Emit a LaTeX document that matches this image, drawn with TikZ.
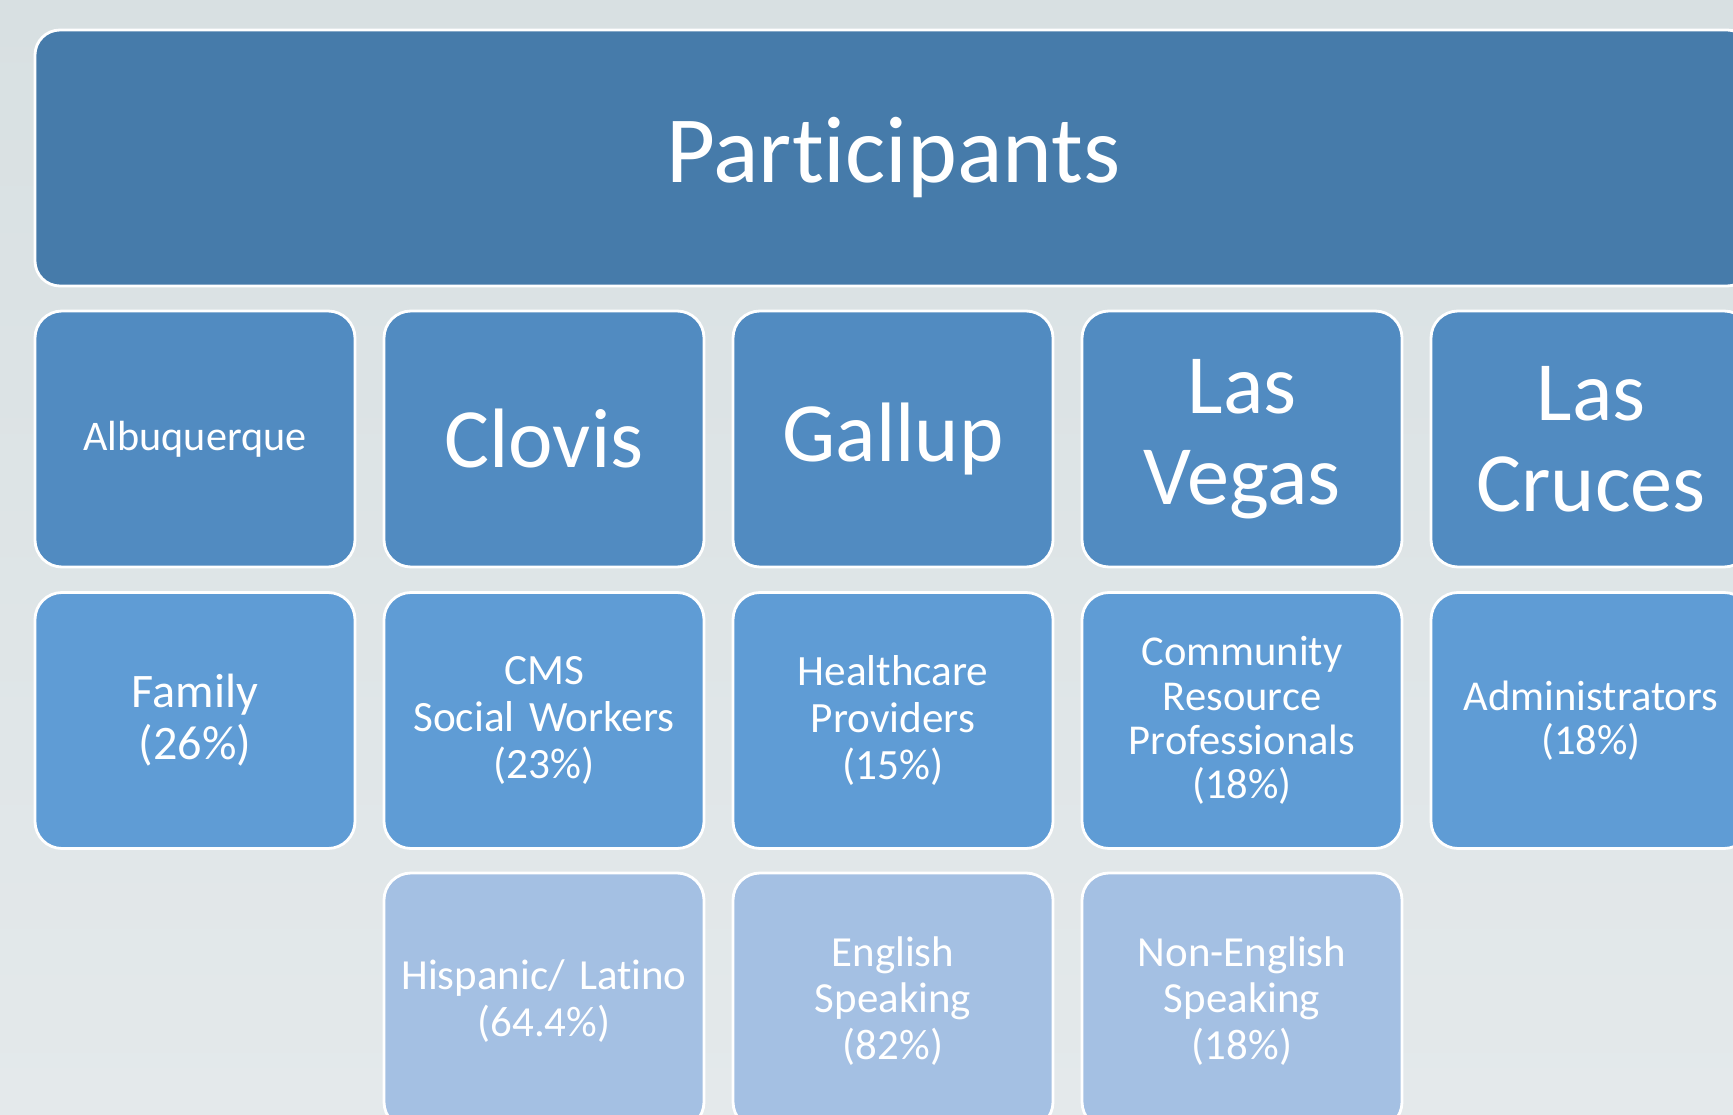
\documentclass[tikz,border=0pt]{standalone}
\usepackage{fontspec}
\setmainfont{Carlito}

\definecolor{bgtop}{RGB}{216,224,226}
\definecolor{bgbottom}{RGB}{228,233,235}
\definecolor{headblue}{RGB}{70,123,170}
\definecolor{cityblue}{RGB}{81,139,193}
\definecolor{roleblue}{RGB}{95,156,213}
\definecolor{paleblue}{RGB}{164,192,227}

\begin{document}
\begin{tikzpicture}[
	line join=round,
	tile/.style={
		draw=white, line width=0.8pt,
		rounded corners=0.27cm,
		minimum width=3.2cm, minimum height=2.56cm,
		text width=3.1cm, align=center,
		text=white, inner sep=0pt
	},
	city/.style={tile, fill=cityblue, font=\fontsize{24}{26}\selectfont},
	role/.style={tile, fill=roleblue, font=\fontsize{12.1}{12.6}\selectfont},
	extra/.style={tile, fill=paleblue, font=\fontsize{12.2}{13.3}\selectfont}
	]
	% Hintergrund und Rahmen
	\useasboundingbox (0,0) rectangle (17.33,11.14);
	\shade[top color=bgtop, bottom color=bgbottom] (0,0) rectangle (17.33,11.14);
	\clip (0,0) rectangle (17.33,11.14);
	
	% Kopfzeile (kein ti-Ligatur)
	\node[tile, fill=headblue, minimum width=17.17cm, text width=17cm,
		rounded corners=0.25cm, font=\fontsize{27}{30}\selectfont]
		(participants) at (8.935,9.56) {Part\kern0pt icipants};
	
	% Standorte
	\node[city, font=\fontsize{12}{14}\selectfont] (albuquerque) at (1.95,6.75) {Albuquerque};
	\node[city] (clovis) at (5.44,6.75) {Clovis};
	\node[city] (gallup) at (8.93,6.75) {Gallup};
	\node[city] (lasvegas) at (12.42,6.75) {Las\\Vegas};
	\node[city] (lascruces) at (15.91,6.75) {Las\\Cruces};
	
	% Gruppen der Teilnehmer
	\node[role, font=\fontsize{13.7}{14.8}\selectfont] (family) at (1.95,3.935) {Family\\(26\%)};
	\node[role, font=\fontsize{12.3}{13.4}\selectfont] (cms) at (5.44,3.935) {CMS\\Social Workers\\(23\%)};
	\node[role, font=\fontsize{12.3}{13.4}\selectfont] (providers) at (8.93,3.935) {Healthcare\\Providers\\(15\%)};
	\node[role] (community) at (12.42,3.935) {Community\\Resource\\Professionals\\(18\%)};
	\node[role] (admins) at (15.91,3.935) {Administrators\\(18\%)};
	
	% Sprache und Herkunft
	\node[extra] (hispanic) at (5.44,1.13) {Hispanic/ Lat\kern0pt ino\\(64.4\%)};
	\node[extra] (english) at (8.93,1.13) {English\\Speaking\\(82\%)};
	\node[extra] (nonenglish) at (12.42,1.13) {Non-English\\Speaking\\(18\%)};
\end{tikzpicture}
\end{document}
